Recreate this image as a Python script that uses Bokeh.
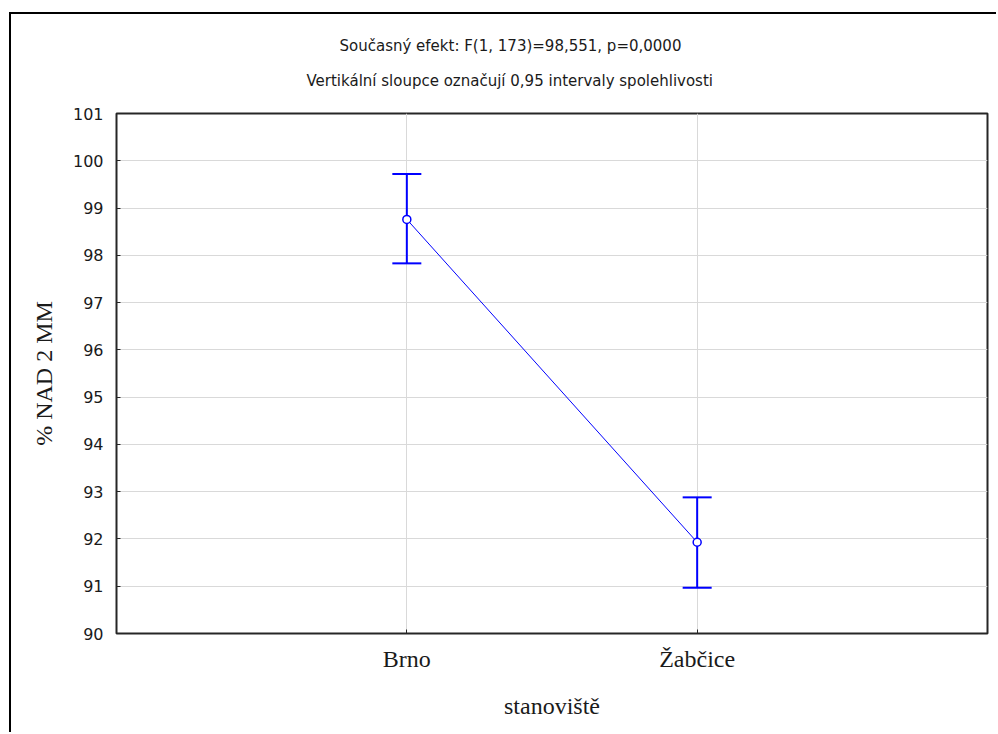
from bokeh.plotting import figure
from bokeh.models import (FactorRange, Range1d, FixedTicker, Whisker, TeeHead,
                          ColumnDataSource, Title)
from bokeh.embed import file_html
from bokeh.resources import INLINE

# ---- data ----
categories = ["Brno", "Žabčice"]
means = [98.76, 91.93]
upper = [99.72, 92.88]
lower = [97.83, 90.97]
y_ticks = [90, 91, 92, 93, 94, 95, 96, 97, 98, 99, 100, 101]
title_line1 = "Současný efekt: F(1, 173)=98,551, p=0,0000"
title_line2 = "Vertikální sloupce označují 0,95 intervaly spolehlivosti"
x_label = "stanoviště"
y_label = "% NAD 2 MM"

BLUE = "#0000FF"
SANS = "DejaVu Sans"
SERIF = "Liberation Serif"

src = ColumnDataSource(dict(cat=categories, mean=means, up=upper, lo=lower))

p = figure(width=987, height=720, output_backend="svg", toolbar_location=None,
           x_range=FactorRange(factors=categories, range_padding=0.5),
           y_range=Range1d(90, 101),
           min_border_left=105, min_border_right=11, min_border_top=99,
           min_border_bottom=101)
p.styles = {"border-left": "2px solid #000", "border-top": "2px solid #000",
            "margin-left": "9px", "margin-top": "12px"}

p.background_fill_color = "white"
p.border_fill_color = "white"
p.outline_line_color = "#262626"
p.outline_line_width = 2

# grid
p.xgrid.grid_line_color = "#d9d9d9"
p.ygrid.grid_line_color = "#d9d9d9"
p.grid.grid_line_width = 1

p.yaxis.ticker = FixedTicker(ticks=y_ticks)
for ax in (p.xaxis, p.yaxis):
    ax.axis_line_color = "#262626"
    ax.axis_line_width = 1
    ax.major_tick_in = 4
    ax.major_tick_out = 0
    ax.minor_tick_line_color = None
    ax.major_tick_line_color = "#262626"
    ax.major_label_text_color = "#1a1a1a"
    ax.axis_label_text_color = "#1a1a1a"
    ax.axis_label_text_font_style = "normal"

p.yaxis.major_label_text_font = SANS
p.yaxis.major_label_text_font_size = "16px"
p.yaxis.major_label_standoff = 13
p.yaxis.axis_label = y_label
p.yaxis.axis_label_text_font = SERIF
p.yaxis.axis_label_text_font_size = "24px"
p.yaxis.axis_label_standoff = 13

p.xaxis.major_label_text_font = SERIF
p.xaxis.major_label_text_font_size = "24px"
p.xaxis.major_label_standoff = 12
p.xaxis.axis_label = x_label
p.xaxis.axis_label_text_font = SERIF
p.xaxis.axis_label_text_font_size = "24px"
p.xaxis.axis_label_standoff = 18

# error bars
w = Whisker(source=src, base="cat", upper="up", lower="lo", dimension="height",
            line_color=BLUE, line_width=2,
            upper_head=TeeHead(size=29, line_color=BLUE, line_width=2),
            lower_head=TeeHead(size=29, line_color=BLUE, line_width=2))
p.add_layout(w)

p.line(x="cat", y="mean", source=src, line_color=BLUE, line_width=1)
p.scatter(x="cat", y="mean", source=src, marker="circle", size=8,
          fill_color="white", line_color=BLUE, line_width=1.5)

# two-line title above the frame (line 2 is nearest the frame)
p.add_layout(Title(text=title_line2, align="left", offset=190, text_font=SANS,
                   text_font_size="15px", text_font_style="normal",
                   text_color="#1a1a1a", standoff=48), "above")
p.add_layout(Title(text=title_line1, align="left", offset=223, text_font=SANS,
                   text_font_size="15px", text_font_style="normal",
                   text_color="#1a1a1a", standoff=-18), "above")

open("out.html", "w").write(file_html(p, INLINE))
